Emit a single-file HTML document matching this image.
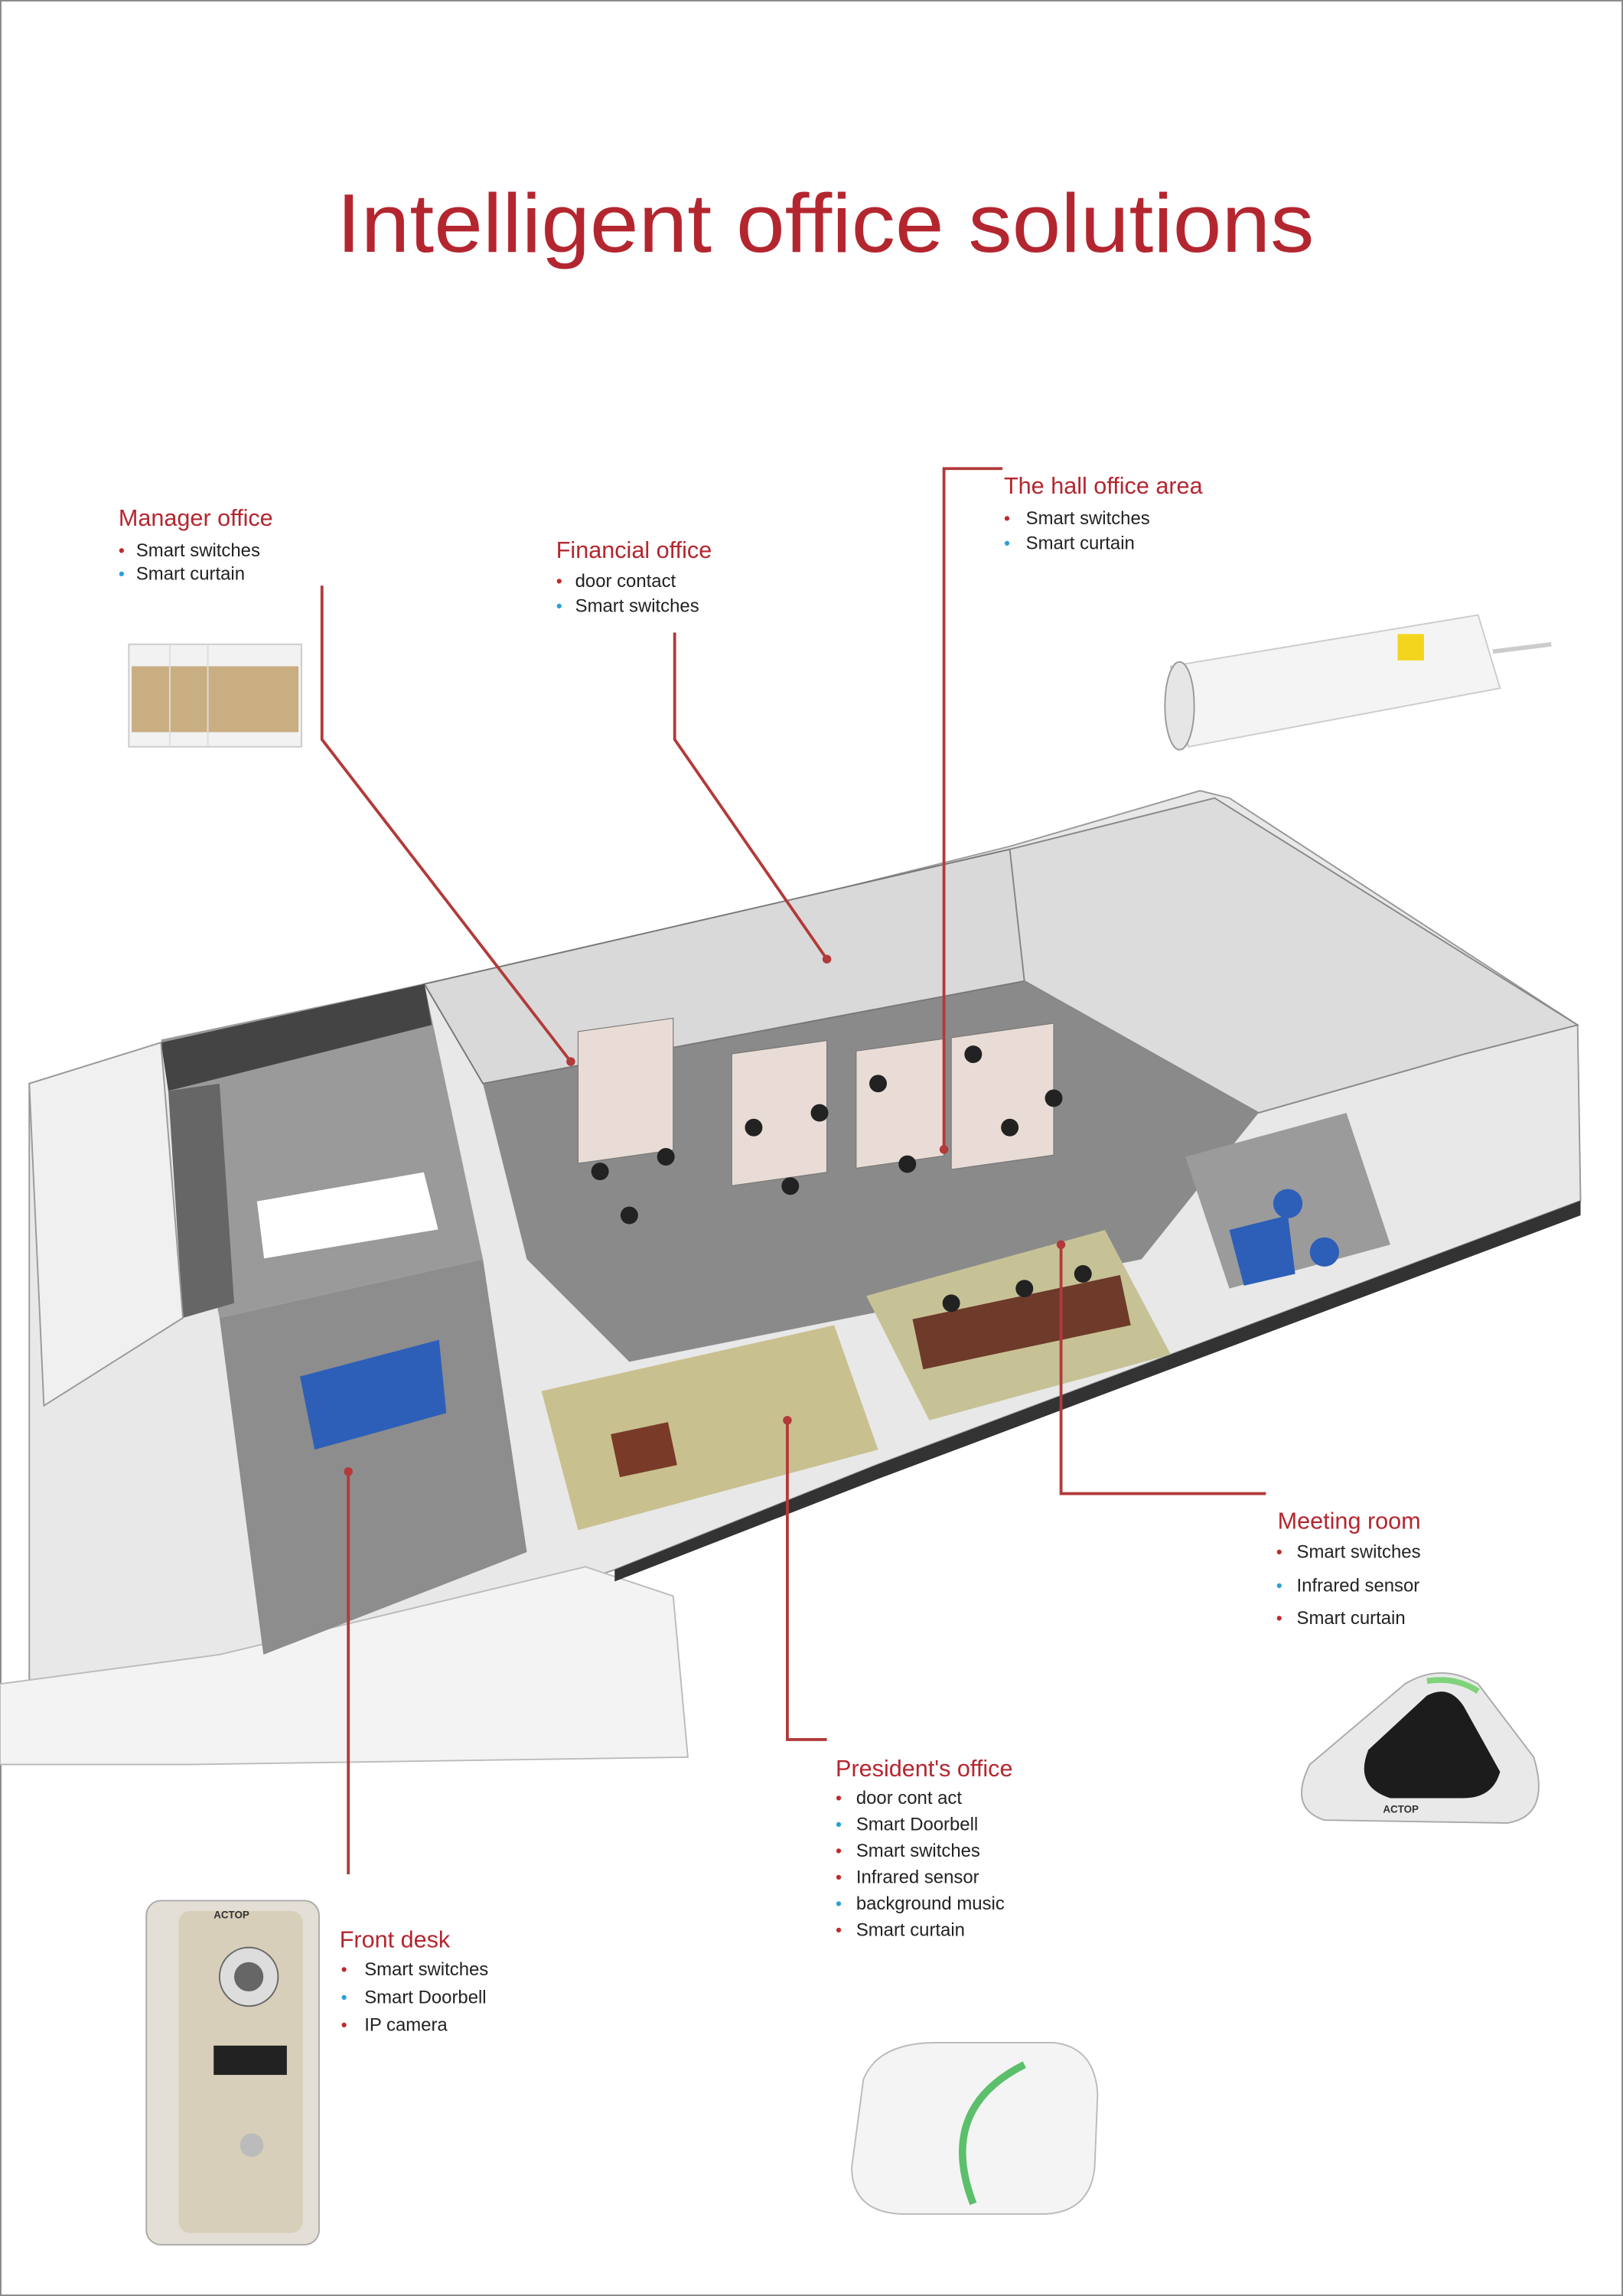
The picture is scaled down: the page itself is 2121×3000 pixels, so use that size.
<!DOCTYPE html>
<html><head><meta charset="utf-8"><style>
html,body{margin:0;padding:0;background:#fff;}
svg{display:block;}
text{font-family:"Liberation Sans",sans-serif;}
</style></head><body>
<svg width="2121" height="3000" viewBox="0 0 1109 1568" preserveAspectRatio="none" xmlns="http://www.w3.org/2000/svg">
<rect x="0.5" y="0.5" width="1108" height="1567" fill="#fff" stroke="#888" stroke-width="1"/>
<text x="564" y="172" text-anchor="middle" font-size="57" fill="#b4262f" textLength="668" lengthAdjust="spacingAndGlyphs">Intelligent office solutions</text>

<!-- building base -->
<polygon points="20,740 110,712 290,672 440,640 690,578 820,540 840,545 1078,700 1080,820 920,880 600,1000 420,1072 220,1140 150,1170 20,1205" fill="#e8e8e8" stroke="#999" stroke-width="1"/>
<polygon points="0,1150 150,1130 400,1070 460,1090 470,1200 130,1205 0,1205" fill="#f3f3f3" stroke="#bbb" stroke-width="1"/>
<!-- floors -->
<polygon points="150,900 330,860 360,1060 180,1130" fill="#8d8d8d"/>
<polygon points="330,740 700,670 860,760 780,860 430,930 360,860" fill="#8a8a8a"/>
<polygon points="110,710 290,672 330,860 150,900" fill="#9a9a9a"/>
<!-- president office -->
<polygon points="370,950 570,905 600,990 395,1045" fill="#c9c08f"/>
<rect x="420" y="975" width="40" height="30" fill="#7a3a28" transform="rotate(-12 440 990)"/>
<!-- meeting room -->
<polygon points="592,885 755,840 800,925 635,970" fill="#c7c296"/>
<rect x="625" y="885" width="145" height="35" fill="#6e3a2a" transform="rotate(-12 700 900)"/>
<!-- front desk blue -->
<polygon points="205,940 300,915 305,965 215,990" fill="#2d5fb8"/>
<!-- right room -->
<polygon points="810,790 920,760 950,850 840,880" fill="#9b9b9b"/>
<circle cx="880" cy="822" r="10" fill="#2d5fb8"/><circle cx="905" cy="855" r="10" fill="#2d5fb8"/>
<polygon points="840,840 880,830 885,870 850,878" fill="#2d5fb8"/>
<!-- offices along back -->
<polygon points="290,672 690,580 700,670 330,740" fill="#d9d9d9" stroke="#777" stroke-width="1"/>
<polygon points="690,580 830,545 1078,700 1000,720 860,760 700,670" fill="#dcdcdc" stroke="#888" stroke-width="1"/>
<polygon points="110,712 290,672 295,700 115,745" fill="#444"/>
<polygon points="115,745 150,740 160,890 125,900" fill="#666"/>
<polygon points="20,740 110,712 125,900 30,960" fill="#f0f0f0" stroke="#999"/>
<!-- workstations -->
<g fill="#e9dcd6" stroke="#777" stroke-width="0.6">
<rect x="395" y="760" width="65" height="90" transform="skewY(-8)"/>
<rect x="500" y="790" width="65" height="90" transform="skewY(-8)"/>
<rect x="585" y="800" width="60" height="80" transform="skewY(-8)"/>
<rect x="650" y="800" width="70" height="90" transform="skewY(-8)"/>
</g>
<g fill="#222">
<circle cx="410" cy="800" r="6"/><circle cx="430" cy="830" r="6"/><circle cx="455" cy="790" r="6"/><circle cx="515" cy="770" r="6"/><circle cx="540" cy="810" r="6"/><circle cx="560" cy="760" r="6"/><circle cx="600" cy="740" r="6"/><circle cx="620" cy="795" r="6"/><circle cx="665" cy="720" r="6"/><circle cx="690" cy="770" r="6"/><circle cx="720" cy="750" r="6"/><circle cx="650" cy="890" r="6"/><circle cx="700" cy="880" r="6"/><circle cx="740" cy="870" r="6"/>
</g>
<polygon points="420,1072 600,1000 920,880 1080,820 1080,830 920,890 600,1010 420,1080" fill="#333"/>
<polygon points="175,820 290,800 300,840 180,860" fill="#fff" stroke="#999"/>

<!-- connectors -->
<g stroke="#b23a3a" stroke-width="2" fill="none">
<polyline points="220,400 220,505 390,725"/>
<polyline points="461,432 461,505 565,655"/>
<polyline points="685,320 645,320 645,785"/>
<polyline points="725,850 725,1020 865,1020"/>
<polyline points="538,970 538,1188 565,1188"/>
<polyline points="238,1005 238,1280"/>
</g>
<g fill="#b23a3a"><circle cx="390" cy="725" r="3"/><circle cx="565" cy="655" r="3"/><circle cx="645" cy="785" r="3"/><circle cx="725" cy="850" r="3"/><circle cx="538" cy="970" r="3"/><circle cx="238" cy="1005" r="3"/></g>

<!-- labels -->
<g font-size="16" fill="#b4262f">
<text x="81" y="359">Manager office</text>
<text x="380" y="381">Financial office</text>
<text x="686" y="337">The hall office area</text>
<text x="873" y="1044">Meeting room</text>
<text x="571" y="1213">President's office</text>
<text x="232" y="1330">Front desk</text>
</g>
<g font-size="12.5" fill="#222">
<text x="93" y="380">Smart switches</text><text x="93" y="396">Smart curtain</text>
<text x="393" y="401">door contact</text><text x="393" y="418">Smart switches</text>
<text x="701" y="358">Smart switches</text><text x="701" y="375">Smart curtain</text>
<text x="886" y="1064">Smart switches</text><text x="886" y="1087">Infrared sensor</text><text x="886" y="1109">Smart curtain</text>
<text x="585" y="1232">door cont  act</text><text x="585" y="1250">Smart Doorbell</text><text x="585" y="1268">Smart switches</text><text x="585" y="1286">Infrared sensor</text><text x="585" y="1304">background music</text><text x="585" y="1322">Smart curtain</text>
<text x="249" y="1349">Smart switches</text><text x="249" y="1368">Smart Doorbell</text><text x="249" y="1387">IP camera</text>
</g>
<g font-size="12">
<text x="81" y="380" fill="#c02a2a">•</text><text x="81" y="396" fill="#2a9fd6">•</text>
<text x="380" y="401" fill="#c02a2a">•</text><text x="380" y="418" fill="#2a9fd6">•</text>
<text x="686" y="358" fill="#c02a2a">•</text><text x="686" y="375" fill="#2a9fd6">•</text>
<text x="872" y="1064" fill="#c02a2a">•</text><text x="872" y="1087" fill="#2a9fd6">•</text><text x="872" y="1109" fill="#c02a2a">•</text>
<text x="571" y="1232" fill="#c02a2a">•</text><text x="571" y="1250" fill="#2a9fd6">•</text><text x="571" y="1268" fill="#c02a2a">•</text><text x="571" y="1286" fill="#c02a2a">•</text><text x="571" y="1304" fill="#2a9fd6">•</text><text x="571" y="1322" fill="#c02a2a">•</text>
<text x="233" y="1349" fill="#c02a2a">•</text><text x="233" y="1368" fill="#2a9fd6">•</text><text x="233" y="1387" fill="#c02a2a">•</text>
</g>

<!-- products -->
<rect x="88" y="440" width="118" height="70" fill="#f2f2f2" stroke="#ccc"/>
<rect x="90" y="455" width="114" height="45" fill="#c9ae82"/>
<line x1="116" y1="440" x2="116" y2="510" stroke="#ddd"/><line x1="142" y1="440" x2="142" y2="510" stroke="#ddd"/>

<polygon points="800,455 1010,420 1025,470 812,510" fill="#f4f4f4" stroke="#ccc"/>
<ellipse cx="806" cy="482" rx="10" ry="30" fill="#e6e6e6" stroke="#999"/>
<rect x="955" y="433" width="18" height="18" fill="#f3d51e"/>
<path d="M1020,445 L1060,440" stroke="#ccc" stroke-width="3"/>

<path d="M895,1205 L960,1150 Q985,1135 1010,1150 L1048,1200 Q1060,1240 1030,1245 L905,1243 Q880,1235 895,1205Z" fill="#e9e9e9" stroke="#aaa"/>
<path d="M935,1195 L975,1158 Q990,1150 1000,1165 L1025,1210 Q1020,1228 1000,1228 L950,1228 Q925,1220 935,1195Z" fill="#1c1c1c"/>
<path d="M975,1148 Q995,1145 1010,1155" stroke="#7fd37a" stroke-width="4" fill="none"/>
<text x="945" y="1238" font-size="7" fill="#333" font-weight="bold">ACTOP</text>

<rect x="100" y="1298" width="118" height="235" rx="10" fill="#e4dfd6" stroke="#aaa"/>
<rect x="122" y="1305" width="85" height="220" rx="8" fill="#d8cfba"/>
<circle cx="170" cy="1350" r="20" fill="#ddd" stroke="#666"/><circle cx="170" cy="1350" r="10" fill="#666"/>
<rect x="146" y="1397" width="50" height="20" fill="#222"/>
<circle cx="172" cy="1465" r="8" fill="#bbb"/>
<text x="146" y="1310" font-size="7" fill="#333" font-weight="bold">ACTOP</text>

<path d="M590,1420 Q600,1395 640,1395 L720,1395 Q748,1398 750,1430 L748,1480 Q745,1510 715,1512 L615,1512 Q582,1510 582,1480Z" fill="#f4f4f4" stroke="#bbb"/>
<path d="M700,1410 Q640,1440 665,1505" stroke="#5bbf6b" stroke-width="5" fill="none"/>
</svg>
</body></html>
